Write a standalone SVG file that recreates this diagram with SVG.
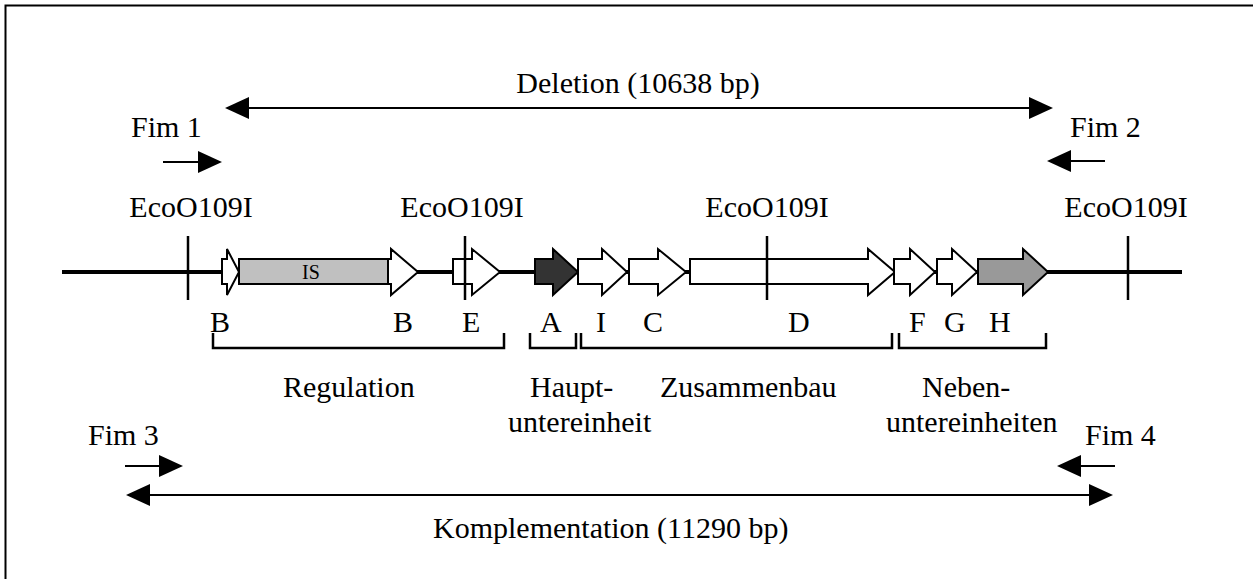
<svg xmlns="http://www.w3.org/2000/svg" width="1253" height="579" viewBox="0 0 1253 579">
  <style>
    text { font-family: "Liberation Serif", "Times New Roman", serif; font-size: 30px; fill: #000; }
    .mid { text-anchor: middle; }
    .conn { stroke: #000; stroke-width: 2; fill: none; }
    .gene { stroke: #000; stroke-width: 2; stroke-linejoin: miter; }
    .white { fill: #fff; }
    .backbone { stroke: #000; stroke-width: 4; }
    .site { stroke: #000; stroke-width: 2.5; }
    .bracket { stroke: #000; stroke-width: 2.5; fill: none; }
  </style>
  <defs>
    <marker id="head" markerUnits="userSpaceOnUse" markerWidth="24" markerHeight="22" viewBox="0 0 24 22" refX="22" refY="11" orient="auto-start-reverse">
      <path d="M0,0 L24,11 L0,22 Z" fill="#000"/>
    </marker>
  </defs>

  <rect x="0" y="0" width="1253" height="579" fill="#fff"/>
  <!-- frame -->
  <path d="M5.5,590 V5.5 H1270" stroke="#000" stroke-width="2" fill="none"/>

  <!-- range and primer arrows -->
  <g id="connectors">
    <line id="deletion-arrow" class="conn" x1="227" y1="108" x2="1051" y2="108" marker-start="url(#head)" marker-end="url(#head)"/>
    <line id="fim1-arrow" class="conn" x1="163" y1="162" x2="220" y2="162" marker-end="url(#head)"/>
    <line id="fim2-arrow" class="conn" x1="1105" y1="161" x2="1049" y2="161" marker-end="url(#head)"/>
    <line id="fim3-arrow" class="conn" x1="125" y1="466" x2="181" y2="466" marker-end="url(#head)"/>
    <line id="fim4-arrow" class="conn" x1="1115" y1="466" x2="1059" y2="466" marker-end="url(#head)"/>
    <line id="komplementation-arrow" class="conn" x1="128" y1="495" x2="1111" y2="495" marker-start="url(#head)" marker-end="url(#head)"/>
  </g>

  <!-- labels of ranges and primers -->
  <g id="deletion-label"><text class="mid" x="638" y="93">Deletion (10638 bp)</text></g>
  <g id="fim1"><text x="131" y="137">Fim 1</text></g>
  <g id="fim2"><text x="1070" y="137">Fim 2</text></g>
  <g id="fim3"><text x="88" y="445">Fim 3</text></g>
  <g id="fim4"><text x="1085" y="445">Fim 4</text></g>
  <g id="komplementation-label"><text x="433" y="538">Komplementation (11290 bp)</text></g>

  <!-- DNA backbone with restriction sites -->
  <g id="backbone">
    <line class="backbone" x1="62" y1="272" x2="1182" y2="272"/>
  </g>
  <g id="sites">
    <line class="site" x1="188" y1="236" x2="188" y2="300"/>
    <line class="site" x1="465" y1="236" x2="465" y2="300"/>
    <line class="site" x1="767" y1="236" x2="767" y2="300"/>
    <line class="site" x1="1128" y1="236" x2="1128" y2="300"/>
  </g>
  <g id="site-labels">
    <text class="mid" x="191" y="217">EcoO109I</text>
    <text class="mid" x="462" y="217">EcoO109I</text>
    <text class="mid" x="767" y="217">EcoO109I</text>
    <text class="mid" x="1126" y="217">EcoO109I</text>
  </g>

  <!-- genes -->
  <g id="gene-B1"><path class="gene white" d="M222,259 H227 V249 L239,272 L227,295 V284 H222 Z"/></g>
  <g id="gene-IS">
    <rect class="gene" x="239" y="259" width="149" height="25" fill="#c0c0c0"/>
    <text class="mid" x="311" y="279" style="font-size:20px">IS</text>
  </g>
  <g id="gene-B2"><path class="gene white" d="M388,259 H391 V249 L418,272 L391,295 V284 H388 Z"/></g>
  <g id="gene-E"><path class="gene white" d="M453,259 H472 V249 L500,272 L472,295 V284 H453 Z"/></g>
  <g id="gene-A"><path class="gene" fill="#333" d="M535,259 H553 V249 L578,272 L553,295 V284 H535 Z"/></g>
  <g id="gene-I"><path class="gene white" d="M578,259 H602 V249 L627,272 L602,295 V284 H578 Z"/></g>
  <g id="gene-C"><path class="gene white" d="M629,259 H658 V249 L686,272 L658,295 V284 H629 Z"/></g>
  <g id="gene-D"><path class="gene white" d="M690,259 H868 V249 L895,272 L868,295 V284 H690 Z"/></g>
  <g id="gene-F"><path class="gene white" d="M894,259 H910 V249 L935,272 L910,295 V284 H894 Z"/></g>
  <g id="gene-G"><path class="gene white" d="M937,259 H952 V249 L977,272 L952,295 V284 H937 Z"/></g>
  <g id="gene-H"><path class="gene" fill="#999" d="M978,259 H1023 V249 L1048,272 L1023,295 V284 H978 Z"/></g>
  <!-- site line redrawn over gene D -->
  <line class="site" x1="767" y1="259" x2="767" y2="284"/>
  <line class="site" x1="465" y1="259" x2="465" y2="284"/>

  <!-- gene letters -->
  <g id="gene-letters">
    <text x="210" y="332">B</text>
    <text x="393" y="332">B</text>
    <text x="462" y="332">E</text>
    <text x="540" y="332">A</text>
    <text x="596" y="332">I</text>
    <text x="643" y="332">C</text>
    <text x="788" y="332">D</text>
    <text x="909" y="332">F</text>
    <text x="944" y="332">G</text>
    <text x="989" y="332">H</text>
  </g>

  <!-- functional groups -->
  <g id="group-regulation">
    <path class="bracket" d="M213,333 V348 H504 V333"/>
    <text x="283" y="397">Regulation</text>
  </g>
  <g id="group-haupt">
    <path class="bracket" d="M530,333 V348 H576 V333"/>
    <text x="530" y="397">Haupt-</text>
    <text x="508" y="432">untereinheit</text>
  </g>
  <g id="group-zusammenbau">
    <path class="bracket" d="M581,333 V348 H892 V333"/>
    <text x="660" y="397">Zusammenbau</text>
  </g>
  <g id="group-neben">
    <path class="bracket" d="M899,333 V348 H1046 V333"/>
    <text x="922" y="397">Neben-</text>
    <text x="886" y="432">untereinheiten</text>
  </g>
</svg>
